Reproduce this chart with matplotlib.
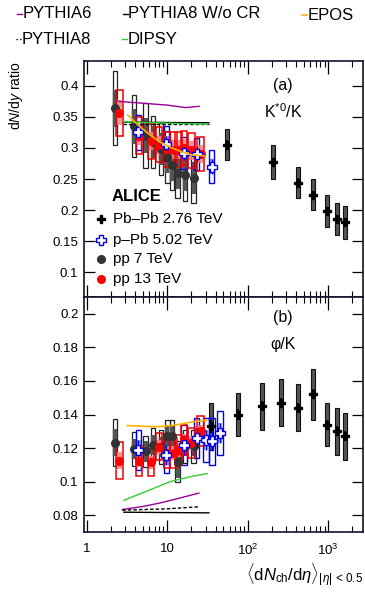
import numpy as np
import matplotlib
matplotlib.use("Agg")
import matplotlib.pyplot as plt
from matplotlib.lines import Line2D
from matplotlib.ticker import FixedLocator, FuncFormatter, LogLocator, NullFormatter

plt.rcParams['font.family'] = ['Liberation Sans', 'DejaVu Sans']
plt.rcParams['mathtext.fontset'] = 'custom'
plt.rcParams['mathtext.rm'] = 'Liberation Sans'
plt.rcParams['mathtext.it'] = 'Liberation Sans:italic'
plt.rcParams['mathtext.bf'] = 'Liberation Sans:bold'

# ---------------- data: K*0/K (panel a) ----------------
pbpb_k_x = [55.5, 205, 426, 649, 966, 1294, 1601]
pbpb_k_y = [0.305, 0.277, 0.244, 0.225, 0.199, 0.186, 0.180]
pbpb_k_stat = [0.007, 0.007, 0.007, 0.006, 0.006, 0.006, 0.006]
pbpb_k_sys = [0.025, 0.027, 0.025, 0.025, 0.026, 0.026, 0.026]

ppb_k_x = [4.4, 9.8, 16.1, 23.2, 35.6]
ppb_k_y = [0.325, 0.307, 0.292, 0.290, 0.270]
ppb_k_unc = [0.014, 0.013, 0.012, 0.012, 0.012]
ppb_k_sys = [0.028, 0.028, 0.026, 0.026, 0.027]

pp7_x = [2.26, 3.90, 5.40, 6.72, 8.45, 10.1, 11.5, 13.5, 16.5, 21.3]
pp7_k_y = [0.364, 0.335, 0.320, 0.310, 0.298, 0.285, 0.272, 0.260, 0.257, 0.252]
pp7_k_stat = [0.030, 0.028, 0.028, 0.026, 0.026, 0.026, 0.026, 0.026, 0.026, 0.026]
pp7_k_sys = [0.060, 0.050, 0.053, 0.042, 0.042, 0.042, 0.040, 0.040, 0.043, 0.040]

pp13_x = [2.55, 4.50, 6.32, 7.95, 10.02, 12.04, 13.77, 16.17, 20.02, 26.02]
pp13_k_y = [0.357, 0.320, 0.311, 0.305, 0.298, 0.297, 0.297, 0.300, 0.296, 0.290]
pp13_k_unc = [0.020, 0.016, 0.015, 0.015, 0.015, 0.015, 0.015, 0.015, 0.015, 0.015]
pp13_k_sys = [0.037, 0.030, 0.028, 0.028, 0.028, 0.028, 0.028, 0.028, 0.028, 0.027]

# models, panel a
mod_x_p6_k = [2.5, 5, 10, 17, 25]
mod_y_p6_k = [0.375, 0.372, 0.369, 0.365, 0.367]
mod_x_p8_k = [2.85, 33]
mod_y_p8_k = [0.3385, 0.3385]
mod_x_p8nocr_k = [2.85, 33]
mod_y_p8nocr_k = [0.3415, 0.3405]
mod_x_dipsy_k = [2.85, 10, 32]
mod_y_dipsy_k = [0.342, 0.340, 0.338]
mod_x_epos_k = [3.25, 4.5, 6, 8, 11, 15, 20, 29]
mod_y_epos_k = [0.353, 0.335, 0.322, 0.310, 0.301, 0.294, 0.289, 0.287]

# ---------------- data: phi/K (panel b) ----------------
pbpb_p_x = [35, 76, 149, 261, 426, 649, 966, 1294, 1601]
pbpb_p_y = [0.133, 0.140, 0.145, 0.147, 0.144, 0.152, 0.134, 0.130, 0.127]
pbpb_p_stat = [0.004, 0.003, 0.003, 0.003, 0.003, 0.003, 0.003, 0.003, 0.003]
pbpb_p_sys = [0.014, 0.013, 0.014, 0.014, 0.014, 0.015, 0.013, 0.014, 0.014]

ppb_p_x = [4.4, 9.8, 16.1, 23.2, 30.5, 36.2, 45.0]
ppb_p_y = [0.119, 0.116, 0.122, 0.126, 0.125, 0.124, 0.129]
ppb_p_unc = [0.006, 0.006, 0.006, 0.006, 0.006, 0.006, 0.006]
ppb_p_sys = [0.012, 0.011, 0.012, 0.012, 0.013, 0.014, 0.013]

pp7_p_y = [0.1231, 0.1195, 0.1180, 0.1217, 0.1207, 0.127, 0.127, 0.112, 0.121, 0.121]
pp7_p_stat = [0.008, 0.006, 0.006, 0.006, 0.006, 0.007, 0.007, 0.010, 0.006, 0.006]
pp7_p_sys = [0.014, 0.010, 0.009, 0.010, 0.010, 0.010, 0.010, 0.012, 0.010, 0.010]

pp13_p_y = [0.1125, 0.1125, 0.1115, 0.1207, 0.1172, 0.117, 0.1188, 0.1246, 0.123, 0.130]
pp13_p_unc = [0.005, 0.004, 0.004, 0.004, 0.004, 0.004, 0.004, 0.004, 0.004, 0.004]
pp13_p_sys = [0.011, 0.009, 0.008, 0.008, 0.009, 0.009, 0.009, 0.009, 0.009, 0.009]

mod_x_p6_p = [2.78, 5, 8.2, 16, 24.8]
mod_y_p6_p = [0.0834, 0.0852, 0.0873, 0.0908, 0.0932]
mod_x_p8_p = [2.78, 10, 24.8]
mod_y_p8_p = [0.0830, 0.0838, 0.0850]
mod_x_p8nocr_p = [2.9, 10, 33]
mod_y_p8nocr_p = [0.0818, 0.0816, 0.0814]
mod_x_dipsy_p = [2.92, 6.5, 11, 21.5, 31.6]
mod_y_dipsy_p = [0.0889, 0.0956, 0.1001, 0.1034, 0.1048]
mod_x_epos_p = [3.2, 5, 7.5, 12, 20, 31]
mod_y_epos_p = [0.1334, 0.1330, 0.1327, 0.1335, 0.1355, 0.1366]

# ---------------- styles ----------------
C_P6 = '#990099'
C_DIPSY = '#33cc33'
C_EPOS = '#ffb300'
C_SPINE = '#12122e'
DEC = 80.0  # pixels per decade (for fixed pixel-width boxes)


def boxes(ax, x, y, err, wpx, **kw):
    x = np.asarray(x, float)
    y = np.asarray(y, float)
    err = np.asarray(err, float)
    f = 10 ** (wpx / 2 / DEC)
    ax.bar(x / f, 2 * err, bottom=y - err, width=x * (f - 1 / f), align='edge', **kw)


def draw_panel(ax, d):
    # pp 7 TeV
    boxes(ax, pp7_x, d['pp7_y'], d['pp7_sys'], 4.2, facecolor='none', edgecolor='#222222', lw=0.9, zorder=2)
    ax.errorbar(pp7_x, d['pp7_y'], yerr=d['pp7_stat'], fmt='none', ecolor='#555555', elinewidth=3.2, zorder=3)
    # p-Pb
    boxes(ax, d['ppb_x'], d['ppb_y'], d['ppb_unc'], 4.5, facecolor='#7b8ff0', edgecolor='none', alpha=0.85, zorder=2)
    boxes(ax, d['ppb_x'], d['ppb_y'], d['ppb_sys'], 5.5, facecolor='none', edgecolor='#0000ee', lw=1.0, zorder=4)
    # pp 13 TeV
    boxes(ax, pp13_x, d['pp13_y'], d['pp13_unc'], 5.5, facecolor='#ff8080', edgecolor='none', alpha=0.85, zorder=4)
    boxes(ax, pp13_x, d['pp13_y'], d['pp13_sys'], 6.5, facecolor='none', edgecolor='#ee0000', lw=1.1, zorder=5)
    # Pb-Pb
    boxes(ax, d['pbpb_x'], d['pbpb_y'], d['pbpb_sys'], 3.8, facecolor='#555555', edgecolor='#111111', lw=0.8, zorder=2)
    ax.errorbar(d['pbpb_x'], d['pbpb_y'], yerr=d['pbpb_stat'], fmt='P', ms=6, color='black', mec='black',
                elinewidth=1.2, capsize=0, zorder=6)
    # markers
    ax.plot(pp7_x, d['pp7_y'], 'o', ms=5.5, color='#333333', zorder=6)
    ax.errorbar(d['ppb_x'], d['ppb_y'], yerr=d['ppb_unc'], fmt='P', ms=6.5, mfc='white', mec='#0000ee',
                ecolor='#0000ee', mew=1.0, elinewidth=0.8, zorder=7)
    ax.plot(pp13_x, d['pp13_y'], 'o', ms=5.5, color='#ff0000', zorder=7)
    # models
    ax.plot(d['p6'][0], d['p6'][1], color=C_P6, lw=1.0, zorder=8)
    ax.plot(d['p8'][0], d['p8'][1], color='black', lw=1.0, ls=(0, (2.5, 1.5)), zorder=8)
    ax.plot(d['p8nocr'][0], d['p8nocr'][1], color='black', lw=1.0, zorder=8)
    ax.plot(d['dipsy'][0], d['dipsy'][1], color=C_DIPSY, lw=1.0, zorder=8)
    ax.plot(d['epos'][0], d['epos'][1], color=C_EPOS, lw=1.2, zorder=8)


fig = plt.figure(figsize=(3.65, 5.92), dpi=100)
L, W = 84 / 365, 279 / 365
ax1 = fig.add_axes([L, 1 - 297 / 592, W, 236 / 592])
ax2 = fig.add_axes([L, 1 - 532 / 592, W, 235 / 592], sharex=ax1)

draw_panel(ax1, dict(pp7_y=pp7_k_y, pp7_sys=pp7_k_sys, pp7_stat=pp7_k_stat,
                     ppb_x=ppb_k_x, ppb_y=ppb_k_y, ppb_unc=ppb_k_unc, ppb_sys=ppb_k_sys,
                     pp13_y=pp13_k_y, pp13_unc=pp13_k_unc, pp13_sys=pp13_k_sys,
                     pbpb_x=pbpb_k_x, pbpb_y=pbpb_k_y, pbpb_sys=pbpb_k_sys, pbpb_stat=pbpb_k_stat,
                     p6=(mod_x_p6_k, mod_y_p6_k), p8=(mod_x_p8_k, mod_y_p8_k),
                     p8nocr=(mod_x_p8nocr_k, mod_y_p8nocr_k), dipsy=(mod_x_dipsy_k, mod_y_dipsy_k),
                     epos=(mod_x_epos_k, mod_y_epos_k)))
draw_panel(ax2, dict(pp7_y=pp7_p_y, pp7_sys=pp7_p_sys, pp7_stat=pp7_p_stat,
                     ppb_x=ppb_p_x, ppb_y=ppb_p_y, ppb_unc=ppb_p_unc, ppb_sys=ppb_p_sys,
                     pp13_y=pp13_p_y, pp13_unc=pp13_p_unc, pp13_sys=pp13_p_sys,
                     pbpb_x=pbpb_p_x, pbpb_y=pbpb_p_y, pbpb_sys=pbpb_p_sys, pbpb_stat=pbpb_p_stat,
                     p6=(mod_x_p6_p, mod_y_p6_p), p8=(mod_x_p8_p, mod_y_p8_p),
                     p8nocr=(mod_x_p8nocr_p, mod_y_p8nocr_p), dipsy=(mod_x_dipsy_p, mod_y_dipsy_p),
                     epos=(mod_x_epos_p, mod_y_epos_p)))

ax1.set_xscale('log')
ax1.set_xlim(0.93, 2700)
ax1.set_ylim(0.06, 0.44)
ax2.set_ylim(0.07, 0.21)

yt1 = [0.1, 0.15, 0.2, 0.25, 0.3, 0.35, 0.4]
yt2 = [0.08, 0.1, 0.12, 0.14, 0.16, 0.18, 0.2]
ax1.yaxis.set_major_locator(FixedLocator(yt1))
ax2.yaxis.set_major_locator(FixedLocator(yt2))
gfmt = FuncFormatter(lambda v, _: '%g' % round(v, 3))
ax1.yaxis.set_major_formatter(gfmt)
ax2.yaxis.set_major_formatter(gfmt)

xlab = {1: '1', 10: '10', 100: r'10$^2$', 1000: r'10$^3$'}
for ax in (ax1, ax2):
    ax.xaxis.set_major_locator(FixedLocator([1, 10, 100, 1000]))
    ax.xaxis.set_minor_locator(LogLocator(base=10, subs=np.arange(2, 10), numticks=20))
    ax.xaxis.set_minor_formatter(NullFormatter())
    ax.tick_params(which='both', direction='in', top=True, right=True, labelsize=9.5, colors='black')
    ax.tick_params(which='major', axis='y', length=8, width=0.9, pad=4)
    ax.tick_params(which='major', axis='x', length=9, width=0.9)
    ax.tick_params(which='minor', axis='x', length=4.5, width=0.8)
    for s in ax.spines.values():
        s.set_color(C_SPINE)
        s.set_linewidth(1.2)
ax1.tick_params(labelbottom=False)
ax2.xaxis.set_major_formatter(FuncFormatter(lambda v, _: xlab.get(int(round(v)), '')))
ax2.tick_params(axis='x', pad=8)

ax1.set_ylabel(r'd$N$/d$y$ ratio', fontsize=10, loc='top', labelpad=20)
ax2.set_xlabel(r'$\langle\mathrm{d}N_{\mathrm{ch}}/\mathrm{d}\eta\rangle_{|\eta|\,<\,0.5}$',
               fontsize=12, loc='right', labelpad=2)

# panel labels
ax1.text(0.713, 0.898, '(a)', transform=ax1.transAxes, fontsize=11.5, ha='center', va='center')
ax1.text(0.713, 0.785, r'K$^{*0}$/K', transform=ax1.transAxes, fontsize=11.5, ha='center', va='center')
ax2.text(0.713, 0.911, '(b)', transform=ax2.transAxes, fontsize=11.5, ha='center', va='center')
ax2.text(0.713, 0.796, 'φ/K', transform=ax2.transAxes, fontsize=11.5, ha='center', va='center')

# ALICE legend inside panel (a)
ax1.text(0.10, 0.424, 'ALICE', transform=ax1.transAxes, fontsize=12, fontweight='bold', va='center')
leg_rows = [
    ('Pb–Pb 2.76 TeV', dict(marker='P', ms=6, color='black'), 0.330),
    ('p–Pb 5.02 TeV', dict(marker='P', ms=6.5, mfc='white', mec='#0000ee', mew=1.0), 0.240),
    ('pp 7 TeV', dict(marker='o', ms=5.5, color='#333333'), 0.159),
    ('pp 13 TeV', dict(marker='o', ms=5.5, color='#ff0000'), 0.076),
]
for label, mk, yy in leg_rows:
    ax1.plot([0.062], [yy], transform=ax1.transAxes, ls='none', clip_on=False, **mk)
    ax1.text(0.104, yy, label, transform=ax1.transAxes, fontsize=11, va='center')

# model legend on top of figure
top_entries = [
    ('PYTHIA6', dict(color=C_P6, lw=1.0), 16.5, 14),
    ('PYTHIA8 W/o CR', dict(color='black', lw=1.0), 122.5, 14),
    ('EPOS', dict(color=C_EPOS, lw=1.2), 301.5, 15),
    ('PYTHIA8', dict(color='black', lw=1.0, ls=(0, (1.0, 1.6))), 16, 39),
    ('DIPSY', dict(color=C_DIPSY, lw=1.0), 122, 39),
]
for label, st, xp, yp in top_entries:
    fig.add_artist(Line2D([xp / 365, (xp + 5) / 365], [1 - yp / 592, 1 - yp / 592],
                          transform=fig.transFigure, **st))
    fig.text((xp + 6) / 365, 1 - yp / 592, label, fontsize=12, va='center', ha='left')

fig.savefig('out.png', dpi=100)
